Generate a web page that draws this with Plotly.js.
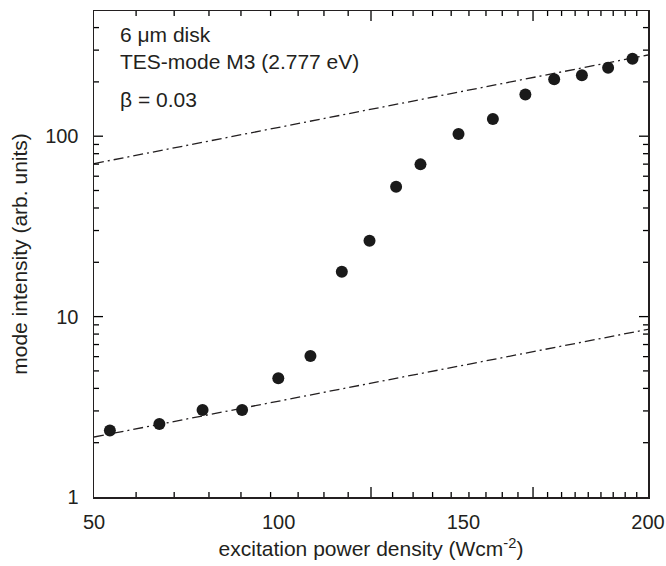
<!DOCTYPE html>
<html>
<head>
<meta charset="utf-8">
<script src="https://cdn.plot.ly/plotly-3.0.1.min.js"></script>
<style>
  html, body { margin: 0; padding: 0; background: #fff; }
  #chart { width: 666px; height: 566px; }
</style>
</head>
<body>
<div id="chart"></div>
<script>
// Measured data: excitation power density (W cm^-2) vs mode intensity (arb. units)
const powerDensity = [54.3, 67.7, 79.4, 90.1, 99.9, 108.6, 117.1, 124.6, 131.8, 138.4, 148.7, 158.0, 166.8, 174.6, 182.1, 189.2, 195.8];
const modeIntensity = [2.34, 2.54, 3.04, 3.04, 4.55, 6.05, 17.7, 26.3, 52.4, 69.8, 102.7, 124.4, 170.5, 206.6, 217.4, 239.5, 268.7];

// Guide lines (dash-dot)
const guideX = [50, 200];
const guideLowY = [2.15, 8.5];
const guideHighY = [70.5, 282];

// Axis labels
const xTickVals = [50, 100, 150, 200];
const xTickText = ['50', '100', '150', '200'];
const yTickVals = [1, 10, 100];
const yTickText = ['1', '10', '100'];

// Tick marks of the frame (the original frame carries x tick marks at uneven, log-like spacing)
const xMarkMajor = [125, 168.87];
const xMarkMinor = [61.40, 71.71, 81.13, 89.79, 97.81, 105.27, 112.26, 118.82,
                    130.85, 136.40, 141.68, 146.71, 151.52, 156.13, 160.54, 164.79,
                    172.81, 176.60, 180.27, 183.82, 187.26, 190.58, 193.82, 196.95];
const yMarkMajor = [10, 100];
const yMarkMinor = [2, 3, 4, 5, 6, 7, 8, 9, 20, 30, 40, 50, 60, 70, 80, 90, 200, 300, 400];

const ink = '#231f20';
const fontFam = 'Liberation Sans, Arial, Helvetica, sans-serif';
const margin = { l: 94, r: 18, t: 11, b: 69 };
const W = 666, H = 566;
const plotW = W - margin.l - margin.r;
const plotH = H - margin.t - margin.b;
const majorLen = 9, minorLen = 5;

// Build tick-mark shapes from the tick arrays
const tickShapes = [];
function xMark(v, len) {
  const f = len / plotH;
  const ln = { color: 'black', width: 1.3 };
  tickShapes.push({ type: 'line', xref: 'x', yref: 'paper', x0: v, x1: v, y0: 0, y1: f, line: ln, layer: 'above' });
  tickShapes.push({ type: 'line', xref: 'x', yref: 'paper', x0: v, x1: v, y0: 1, y1: 1 - f, line: ln, layer: 'above' });
}
function yMark(v, len) {
  const f = len / plotW;
  const ln = { color: 'black', width: 1.3 };
  tickShapes.push({ type: 'line', xref: 'paper', yref: 'y', x0: 0, x1: f, y0: v, y1: v, line: ln, layer: 'above' });
  tickShapes.push({ type: 'line', xref: 'paper', yref: 'y', x0: 1, x1: 1 - f, y0: v, y1: v, line: ln, layer: 'above' });
}
xMarkMajor.forEach(v => xMark(v, majorLen + 1));
xMarkMinor.forEach(v => xMark(v, minorLen));
yMarkMajor.forEach(v => yMark(v, majorLen));
yMarkMinor.forEach(v => yMark(v, minorLen));

const traces = [
  {
    x: guideX, y: guideLowY, mode: 'lines',
    line: { color: ink, width: 1.3, dash: '10px,4px,2px,4px' },
    showlegend: false, hoverinfo: 'skip'
  },
  {
    x: guideX, y: guideHighY, mode: 'lines',
    line: { color: ink, width: 1.3, dash: '10px,4px,2px,4px' },
    showlegend: false, hoverinfo: 'skip'
  },
  {
    x: powerDensity, y: modeIntensity, mode: 'markers',
    marker: { color: '#1a1a1a', size: 12 },
    showlegend: false
  }
];

const layout = {
  width: W, height: H,
  margin: margin,
  font: { family: fontFam, color: ink, size: 20 },
  showlegend: false,
  xaxis: {
    range: [50, 200],
    tickmode: 'array', tickvals: xTickVals, ticktext: xTickText,
    ticks: '', showgrid: false, zeroline: false,
    showline: true, mirror: true, linecolor: ink, linewidth: 1.5,
    tickfont: { size: 20, color: ink },
    ticklabelstandoff: 6,
    title: { text: 'excitation power density (Wcm<sup>-2</sup>)', font: { size: 21, color: ink }, standoff: 10 }
  },
  yaxis: {
    type: 'log', range: [0, 2.694],
    tickmode: 'array', tickvals: yTickVals, ticktext: yTickText,
    ticks: '', showgrid: false, zeroline: false,
    showline: true, mirror: true, linecolor: ink, linewidth: 1.5,
    tickfont: { size: 20, color: ink },
    ticklabelstandoff: 10,
    title: { text: 'mode intensity (arb. units)', font: { size: 21, color: ink }, standoff: 12 }
  },
  shapes: tickShapes,
  annotations: [
    { text: '6 \u03bcm disk', xref: 'paper', yref: 'paper', x: 0.043, y: 0.952, xanchor: 'left', yanchor: 'middle', showarrow: false, font: { size: 21, color: ink } },
    { text: 'TES-mode M3 (2.777 eV)', xref: 'paper', yref: 'paper', x: 0.043, y: 0.896, xanchor: 'left', yanchor: 'middle', showarrow: false, font: { size: 21, color: ink } },
    { text: '\u03b2 = 0.03', xref: 'paper', yref: 'paper', x: 0.043, y: 0.817, xanchor: 'left', yanchor: 'middle', showarrow: false, font: { size: 21, color: ink } }
  ]
};

Plotly.newPlot('chart', traces, layout, { staticPlot: true, displayModeBar: false });
</script>
</body>
</html>
